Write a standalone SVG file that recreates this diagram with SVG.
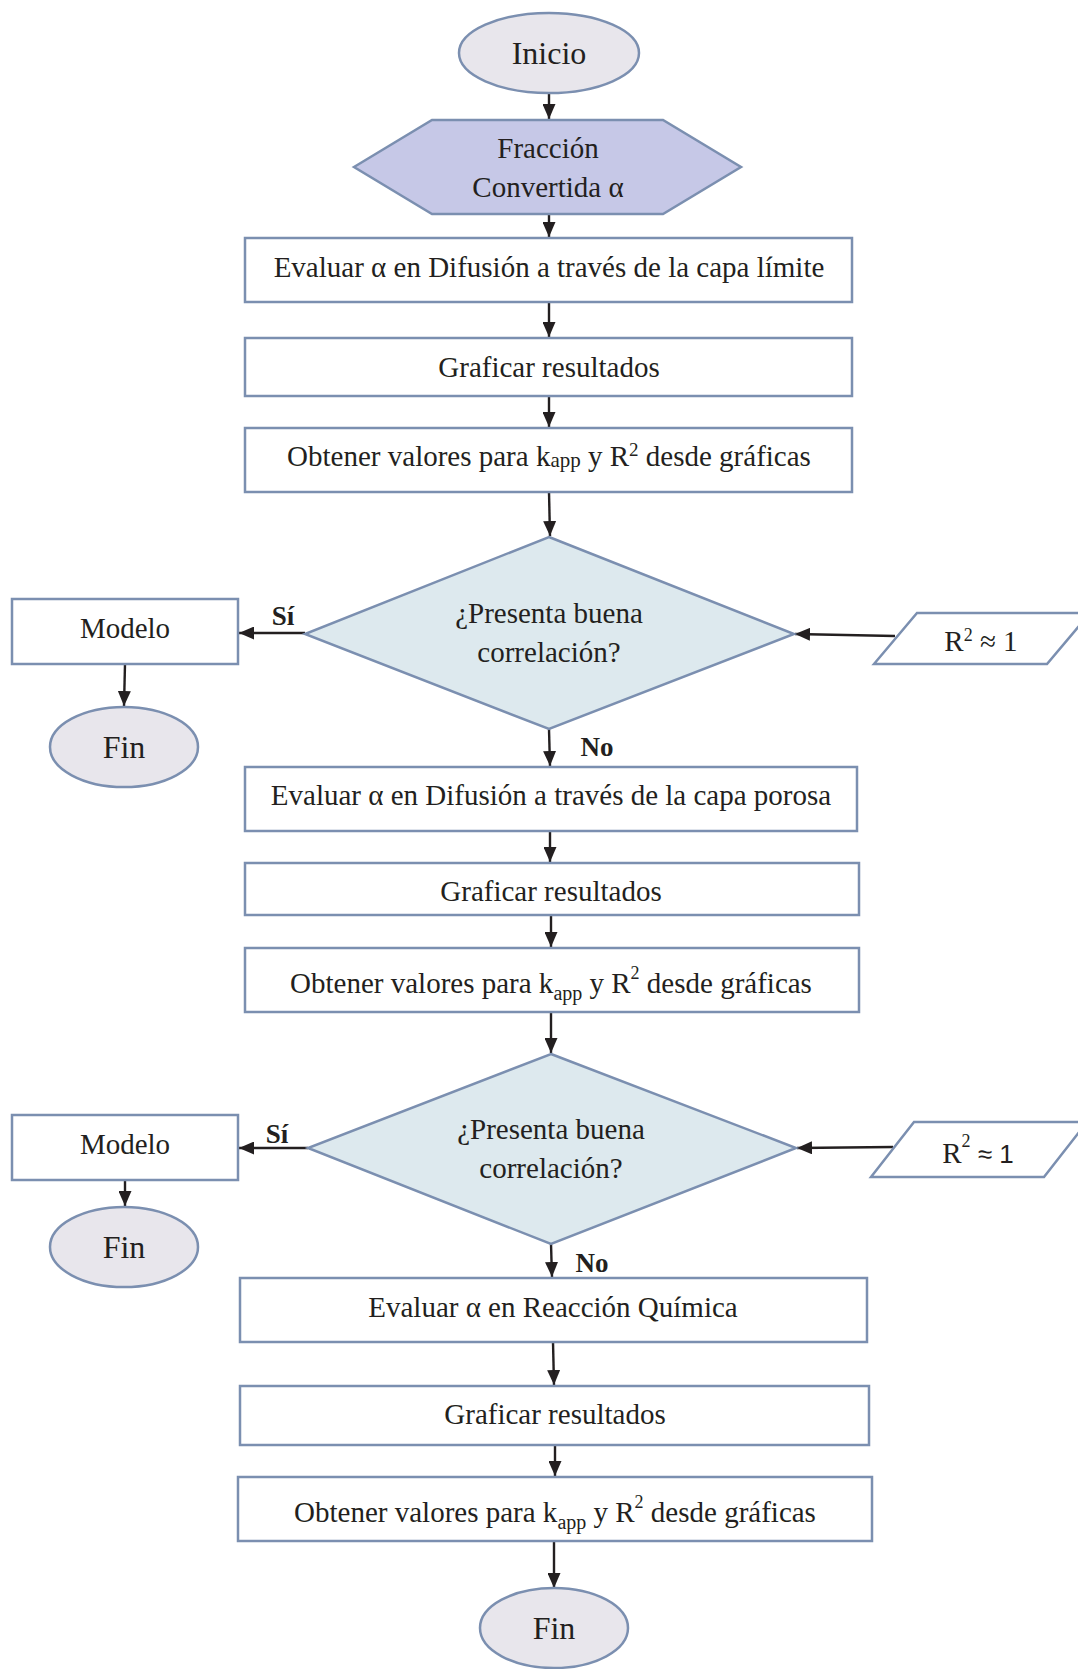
<svg xmlns="http://www.w3.org/2000/svg" width="1078" height="1669" viewBox="0 0 1078 1669">
  <defs>
    <marker id="arrow" viewBox="0 0 15 13" refX="15" refY="6.5" markerWidth="15" markerHeight="13" markerUnits="userSpaceOnUse" orient="auto">
      <path d="M0,0 L15,6.5 L0,13 z" fill="#231f20"/>
    </marker>
    <style>
      .box { fill: #ffffff; stroke: #7b8fb0; stroke-width: 2.5; }
      .term { fill: #e8e6ec; stroke: #7b8fb0; stroke-width: 2.5; }
      .hex { fill: #c6c8e7; stroke: #7b8fb0; stroke-width: 2.5; }
      .dec { fill: #dde9ee; stroke: #7b8fb0; stroke-width: 2.5; }
      .io { fill: #ffffff; stroke: #7b8fb0; stroke-width: 2.5; }
      .conn line { stroke: #231f20; stroke-width: 2.4; marker-end: url(#arrow); }
      text { font-family: "Liberation Serif", "DejaVu Serif", serif; fill: #231f20; text-anchor: middle; }
      .t { font-size: 29px; }
      .big { font-size: 32px; }
      .lbl { font-size: 27px; font-weight: bold; }
      .sans { font-family: "Liberation Sans", "DejaVu Sans", sans-serif; }
    </style>
  </defs>

  <!-- connectors -->
  <g class="conn" id="connectors">
    <line x1="549" y1="94" x2="549" y2="119"/>
    <line x1="549" y1="214" x2="549" y2="237"/>
    <line x1="549" y1="302" x2="549" y2="337"/>
    <line x1="549" y1="396" x2="549" y2="427"/>
    <line x1="549" y1="492" x2="550" y2="536"/>
    <line x1="305" y1="633" x2="239" y2="633"/>
    <line x1="125" y1="664" x2="124" y2="706"/>
    <line x1="895" y1="636" x2="795" y2="634"/>
    <line x1="549" y1="729" x2="550" y2="766"/>
    <line x1="550" y1="831" x2="550" y2="862"/>
    <line x1="551" y1="915" x2="551" y2="947"/>
    <line x1="551" y1="1012" x2="551" y2="1053"/>
    <line x1="308" y1="1148" x2="239" y2="1148"/>
    <line x1="125" y1="1180" x2="125" y2="1206"/>
    <line x1="893" y1="1147" x2="797" y2="1148"/>
    <line x1="551" y1="1244" x2="552" y2="1277"/>
    <line x1="553" y1="1342" x2="554" y2="1385"/>
    <line x1="555" y1="1445" x2="555" y2="1476"/>
    <line x1="554" y1="1541" x2="554" y2="1588"/>
  </g>

  <!-- start -->
  <g id="inicio">
    <ellipse class="term" cx="549" cy="53" rx="90" ry="40"/>
    <text class="big" x="549" y="64">Inicio</text>
  </g>

  <g id="fraccion">
    <polygon class="hex" points="354,167 432,120 663,120 741,167 663,214 432,214"/>
    <text class="t" x="548" y="158">Fracción</text>
    <text class="t" x="548" y="197">Convertida α</text>
  </g>

  <!-- boundary layer branch -->
  <g id="eval-limite">
    <rect class="box" x="245" y="238" width="607" height="64"/>
    <text class="t" x="549" y="277" font-size="28.5">Evaluar α en Difusión a través de la capa límite</text>
  </g>

  <g id="graficar-1">
    <rect class="box" x="245" y="338" width="607" height="58"/>
    <text class="t" x="549" y="377">Graficar resultados</text>
  </g>

  <g id="obtener-1">
    <rect class="box" x="245" y="428" width="607" height="64"/>
    <text class="t" x="549" y="466">Obtener valores para k<tspan font-size="21" dy="1">app</tspan><tspan dy="-1"> y R</tspan><tspan font-size="19" dy="-10">2</tspan><tspan dy="10"> desde gráficas</tspan></text>
  </g>

  <g id="decision-1">
    <polygon class="dec" points="549,537 794,634 549,729 305,634"/>
    <text class="t" x="549" y="623">¿Presenta buena</text>
    <text class="t" x="549" y="662">correlación?</text>
  </g>

  <g id="modelo-1">
    <rect class="box" x="12" y="599" width="226" height="65"/>
    <text class="t" x="125" y="638">Modelo</text>
  </g>

  <g id="fin-1">
    <ellipse class="term" cx="124" cy="747" rx="74" ry="40"/>
    <text class="big" x="124" y="758">Fin</text>
  </g>

  <g id="criterio-1">
    <polygon class="io" points="874,664 917,613 1090,613 1047,664"/>
    <text class="t" x="981" y="651" font-size="27">R<tspan font-size="18" dy="-10">2</tspan><tspan dy="10"> ≈ 1</tspan></text>
  </g>

  <!-- porous layer branch -->
  <g id="eval-porosa">
    <rect class="box" x="245" y="767" width="612" height="64"/>
    <text class="t" x="551" y="805" font-size="28.5">Evaluar α en Difusión a través de la capa porosa</text>
  </g>

  <g id="graficar-2">
    <rect class="box" x="245" y="863" width="614" height="52"/>
    <text class="t" x="551" y="901">Graficar resultados</text>
  </g>

  <g id="obtener-2">
    <rect class="box" x="245" y="948" width="614" height="64"/>
    <text class="t" x="551" y="993">Obtener valores para k<tspan font-size="20" dy="7">app</tspan><tspan dy="-7"> y R</tspan><tspan font-size="18" dy="-14">2</tspan><tspan dy="14"> desde gráficas</tspan></text>
  </g>

  <g id="decision-2">
    <polygon class="dec" points="551,1054 796,1148 551,1244 308,1148"/>
    <text class="t" x="551" y="1139">¿Presenta buena</text>
    <text class="t" x="551" y="1178">correlación?</text>
  </g>

  <g id="modelo-2">
    <rect class="box" x="12" y="1115" width="226" height="65"/>
    <text class="t" x="125" y="1154">Modelo</text>
  </g>

  <g id="fin-2">
    <ellipse class="term" cx="124" cy="1247" rx="74" ry="40"/>
    <text class="big" x="124" y="1258">Fin</text>
  </g>

  <g id="criterio-2">
    <polygon class="io" points="871,1177 914,1122 1087,1122 1044,1177"/>
    <text class="t" x="978" y="1163" font-size="27">R<tspan font-size="18" dy="-16">2</tspan><tspan class="sans" font-size="26" dy="16"> ≈ 1</tspan></text>
  </g>

  <!-- chemical reaction branch -->
  <g id="eval-reaccion">
    <rect class="box" x="240" y="1278" width="627" height="64"/>
    <text class="t" x="553" y="1317">Evaluar α en Reacción Química</text>
  </g>

  <g id="graficar-3">
    <rect class="box" x="240" y="1386" width="629" height="59"/>
    <text class="t" x="555" y="1424">Graficar resultados</text>
  </g>

  <g id="obtener-3">
    <rect class="box" x="238" y="1477" width="634" height="64"/>
    <text class="t" x="555" y="1522">Obtener valores para k<tspan font-size="20" dy="7">app</tspan><tspan dy="-7"> y R</tspan><tspan font-size="18" dy="-14">2</tspan><tspan dy="14"> desde gráficas</tspan></text>
  </g>

  <g id="fin-3">
    <ellipse class="term" cx="554" cy="1628" rx="74" ry="40"/>
    <text class="big" x="554" y="1639">Fin</text>
  </g>

  <!-- branch labels -->
  <g id="labels">
    <text class="lbl" x="283" y="625">Sí</text>
    <text class="lbl" x="597" y="756">No</text>
    <text class="lbl" x="277" y="1143">Sí</text>
    <text class="lbl" x="592" y="1272">No</text>
  </g>
</svg>
